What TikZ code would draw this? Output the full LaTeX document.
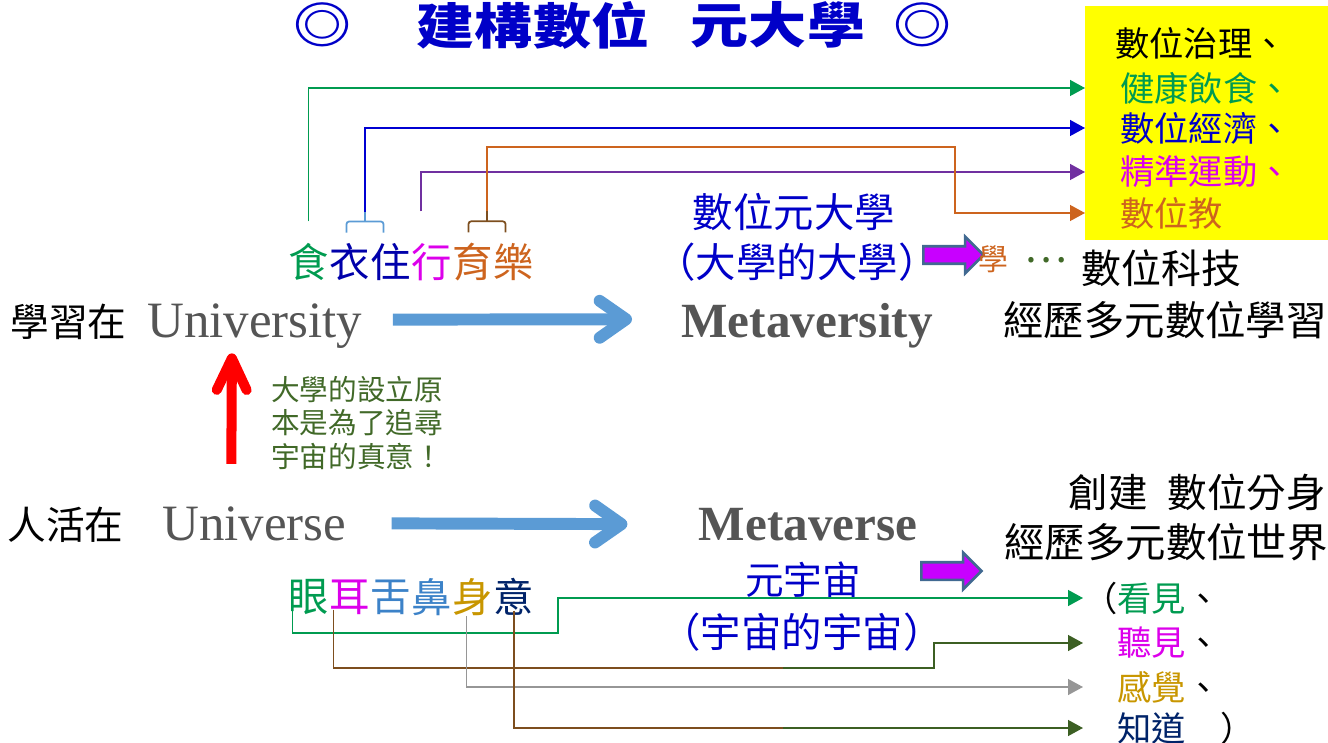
\documentclass[tikz,border=0pt]{standalone}
\usepackage{fontspec}
\setmainfont{Liberation Serif}
\newfontfamily\cjk{Noto Sans CJK TC}
\usepackage{tikz}
\usetikzlibrary{arrows.meta,shapes.arrows,calc}

\newcommand\atsize[1]{\fontsize{#1}{#1}\selectfont}
\newcommand\widen[1]{\scalebox{1.18}[1]{#1}}

\definecolor{titleBlue}{RGB}{0,0,200}
\definecolor{wordGray}{RGB}{85,85,85}
\definecolor{flowBlue}{RGB}{91,155,213}
\definecolor{goalYellow}{RGB}{255,255,0}
\definecolor{shiGreen}{RGB}{0,155,80}
\definecolor{yiBlue}{RGB}{0,0,170}
\definecolor{lineBlue}{RGB}{0,0,210}
\definecolor{xingMag}{RGB}{220,0,235}
\definecolor{yuOrange}{RGB}{205,100,30}
\definecolor{purpLine}{RGB}{112,48,160}
\definecolor{skyLine}{RGB}{91,155,213}
\definecolor{brownLine}{RGB}{125,78,30}
\definecolor{oliveLine}{RGB}{60,95,35}
\definecolor{greyLine}{RGB}{150,150,150}
\definecolor{noteGreen}{RGB}{65,105,40}
\definecolor{tongueBlue}{RGB}{60,130,200}
\definecolor{bodyGold}{RGB}{200,150,0}
\definecolor{mindNavy}{RGB}{0,35,105}
\definecolor{blockMag}{RGB}{200,0,255}
\definecolor{blockEdge}{RGB}{65,105,145}

\tikzset{
  lbl/.style={inner sep=0pt, font=\cjk\atsize{23}},
  headline/.style={lbl, text=titleBlue, font=\cjk\bfseries\atsize{28}},
  latin/.style={inner sep=0pt, text=wordGray, font=\atsize{29}},
  wire/.style={line width=1pt},
  link/.style={wire, -{Triangle[length=8.5pt,width=9pt]}},
  bracketline/.style={line width=1pt, rounded corners=1.5pt},
  flowarrow/.style={line width=6.8pt, color=flowBlue, -{Straight Barb[length=15pt,width=21pt,round]}},
  risearrow/.style={line width=5.7pt, color=red, -{Straight Barb[length=18pt,width=17pt,round]}},
  pushblock/.style={single arrow, draw=blockEdge, fill=blockMag, line width=1.5pt, inner sep=0pt,
    text height=0.15cm, text depth=0.15cm, minimum height=1.2cm,
    single arrow head extend=0.19cm, single arrow head indent=0pt}
}

\begin{document}
\begin{tikzpicture}[x=0.02cm,y=-0.02cm]
\useasboundingbox (0,0) rectangle (1328,743);

\node[headline] (ringL) at (323,25) {\widen{◎}};
\node[headline] (titleA) at (533,25) {\widen{建構數位}};
\node[headline] (titleB) at (778,25) {\widen{元大學}};
\node[headline] (ringR) at (923,25) {\widen{◎}};

\node[fill=goalYellow, inner sep=0pt, minimum width=4.86cm, minimum height=4.68cm, anchor=north west] (goalBox) at (1085,6) {};
\foreach \txt/\col/\xx/\yy [count=\k] in {數位治理、/black/1115/43, 健康飲食、/shiGreen/1120/88, 數位經濟、/titleBlue/1120/128, 精準運動、/xingMag/1120/172, 數位教/yuOrange/1120/213}
  \node[lbl, font=\cjk\atsize{19.5}, text=\col, anchor=west] (goal\k) at (\xx,\yy) {\txt};

\foreach \ch/\col [count=\i] in {食/shiGreen,衣/yiBlue,住/yiBlue,行/xingMag,育/yuOrange,樂/yuOrange}
  \node[lbl, text=\col] (life\i) at ({267.5+41*\i},262) {\ch};
\foreach \ch/\col [count=\i] in {眼/shiGreen,耳/xingMag,舌/tongueBlue,鼻/tongueBlue,身/bodyGold,意/mindNavy}
  \node[lbl, text=\col] (sense\i) at ({268+41*\i},597) {\ch};

\node[lbl, font=\cjk\atsize{22}, anchor=west] (learnAt) at (10,322) {學習在};
\node[latin, anchor=base west] (univ) at (147,337) {University};
\node[lbl, font=\cjk\atsize{22}, anchor=west] (liveAt) at (7,525) {人活在};
\node[latin, anchor=base west] (universe) at (162,540) {Universe};
\node[latin, font=\bfseries\atsize{28}, anchor=base] (metasity) at (807,337) {Metaversity};
\node[latin, font=\bfseries\atsize{28}, anchor=base] (metaverse) at (808,540) {Metaverse};

\node[inner sep=0pt, text=noteGreen, font=\cjk\fontsize{16.3}{19}\selectfont, align=left] (why) at (357,423) {大學的設立原\\本是為了追尋\\宇宙的真意！};

\node[lbl, text=titleBlue] (metaUni) at (794,212) {數位元大學};
\node[lbl, text=titleBlue] (metaUniNote) at (797,262) {（大學的大學）};
\node[pushblock] (toLearn) at (949,255) {};
\node[lbl, text=yuOrange, font=\cjk\atsize{17}] (learnWord) at (993,259) {學};
\node[lbl, text=noteGreen] (dots) at (1046,260) {…};
\node[lbl, font=\cjk\atsize{22.7}, anchor=west] (tech) at (1081,268) {數位科技};
\node[lbl, anchor=east] (multiLearn) at (1327,320) {經歷多元數位學習};

\node[lbl, font=\cjk\atsize{22.5}, anchor=east] (avatar) at (1326,492) {創建\hspace{0.5em}數位分身};
\node[lbl, anchor=east] (multiWorld) at (1328,542) {經歷多元數位世界};
\node[pushblock] (toWorld) at (947,571) {};
\node[lbl, text=titleBlue, font=\cjk\atsize{22}] (metaVerseWord) at (803,580) {元宇宙};
\node[lbl, text=titleBlue] (metaVerseNote) at (802,632) {（宇宙的宇宙）};

\node[lbl, font=\cjk\atsize{19.5}, anchor=west] (see) at (1083,598) {（\textcolor{shiGreen}{看見}、};
\node[lbl, font=\cjk\atsize{19.5}, anchor=west] (hear) at (1083,643) {　\textcolor{xingMag}{聽見}、};
\node[lbl, font=\cjk\atsize{19.5}, anchor=west] (feel) at (1083,687) {　\textcolor{bodyGold}{感覺}、};
\node[lbl, font=\cjk\atsize{19.5}, anchor=west] (know) at (1083,728) {　\textcolor{mindNavy}{知道}　）};

\draw[flowarrow] ([shift={(30,-6)}]univ.east) -- ([shift={(-49,-6)}]metasity.west);
\draw[flowarrow] ([shift={(45,0)}]universe.east) -- ([shift={(-71,0)}]metaverse.west);
\draw[risearrow] ([shift={(-23,-42)}]universe.north) -- ([shift={(-23,5)}]univ.south);

\coordinate (wearMid) at ($(life2.north)!0.5!(life3.north)+(-5,0)$);
\coordinate (playMid) at ($(life5.north)!0.5!(life6.north)+(-6,0)$);
\coordinate (wearTick) at ([shift={(0,-31.5)}]wearMid);
\coordinate (playTick) at ([shift={(0,-31.5)}]playMid);
\coordinate (teachTurn) at (955,147);
\draw[bracketline, skyLine] ([shift={(-18.5,-10.5)}]wearMid) -- ([shift={(-18.5,-21.5)}]wearMid) -- ([shift={(18.5,-21.5)}]wearMid) -- ([shift={(18.5,-10.5)}]wearMid);
\draw[wire, skyLine] ([shift={(0,-21.5)}]wearMid) -- (wearTick);
\draw[bracketline, brownLine] ([shift={(-18.5,-10.5)}]playMid) -- ([shift={(-18.5,-21.5)}]playMid) -- ([shift={(18.5,-21.5)}]playMid) -- ([shift={(18.5,-10.5)}]playMid);
\draw[wire, brownLine] ([shift={(0,-21.5)}]playMid) -- (playTick);

\draw[link, shiGreen] ([shift={(0,-21.5)}]life1.north) |- (goalBox.west |- goal2.west);
\draw[link, lineBlue] (wearTick) |- (goalBox.west |- goal3.west);
\draw[link, purpLine] ([shift={(-10.5,-31.5)}]life4.north) |- (goalBox.west |- goal4.west);
\draw[link, yuOrange] (playTick) |- (teachTurn) |- (goalBox.west |- goal5.west);

\coordinate (eyeTurn) at (558,633);
\coordinate (earMid) at (783,668);
\coordinate (earTurn) at (934,643);
\coordinate (mindMid) at (783,728);
\draw[link, shiGreen] ([shift={(-16.5,-5)}]sense1.south) |- (eyeTurn) |- (see.west);
\draw[wire, brownLine] ([shift={(-16.5,-5)}]sense2.south) |- (earMid);
\draw[link, oliveLine] (earMid) -| (earTurn) -- (hear.west);
\draw[link, greyLine] ([shift={(-6.5,0)}]sense5.south) |- (feel.west);
\draw[wire, brownLine] ([shift={(0,-5)}]sense6.south) |- (mindMid);
\draw[link, oliveLine] (mindMid) -- (know.west);
\end{tikzpicture}
\end{document}
